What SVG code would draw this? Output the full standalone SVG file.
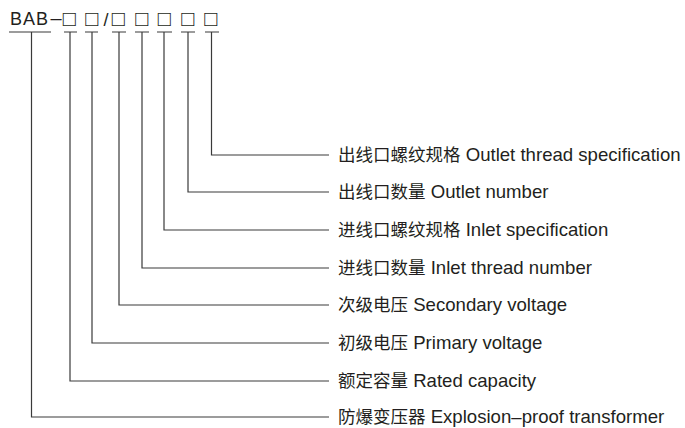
<svg xmlns="http://www.w3.org/2000/svg" width="685" height="428" viewBox="0 0 685 428">
<style>
.t{font-family:"Liberation Sans","Noto Sans CJK SC",sans-serif;font-size:18.6px;fill:#231f20}
.z{font-family:"Noto Sans CJK SC",sans-serif;font-size:17.5px}
.h{font-family:"Liberation Sans",sans-serif;font-size:18px;fill:#231f20}
.s{font-family:"Liberation Sans";font-size:22px;fill:#231f20;text-anchor:middle}
.c{stroke:#3a3a3a;stroke-width:1.2;fill:none}
</style>
<rect width="685" height="428" fill="#fff"/>
<g id="code">
<text class="h" y="25"><tspan x="10" letter-spacing="1">BAB</tspan><tspan x="50.5" font-size="20">–</tspan></text>
<text class="s" y="25.5"><tspan x="69.5">□</tspan><tspan x="92">□</tspan><tspan x="106" class="h">/</tspan><tspan x="118.5">□</tspan><tspan x="142">□</tspan><tspan x="164.5">□</tspan><tspan x="188">□</tspan><tspan x="211">□</tspan></text>
</g>
<g id="connectors" class="c">
<path d="M9 32H51M64 32H77M85 32H98M112 32H126M135 32H149M157 32H172M181 32H195M205 32H219"/>
<path d="M211.5 32V155H329"/>
<path d="M188 32V192H329"/>
<path d="M164 32V230H329"/>
<path d="M142 32V268H329"/>
<path d="M119 32V305H329"/>
<path d="M92 32V343H329"/>
<path d="M70 32V381H329"/>
<path d="M31.5 32V417H329"/>
</g>
<g id="n1"><text class="t" x="338" y="161"><tspan class="z">出线口螺纹规格</tspan> Outlet thread specification</text></g>
<g id="n2"><text class="t" x="338" y="198"><tspan class="z">出线口数量</tspan> Outlet number</text></g>
<g id="n3"><text class="t" x="338" y="236"><tspan class="z">进线口螺纹规格</tspan> Inlet specification</text></g>
<g id="n4"><text class="t" x="338" y="274"><tspan class="z">进线口数量</tspan> Inlet thread number</text></g>
<g id="n5"><text class="t" x="338" y="311"><tspan class="z">次级电压</tspan> Secondary voltage</text></g>
<g id="n6"><text class="t" x="338" y="349"><tspan class="z">初级电压</tspan> Primary voltage</text></g>
<g id="n7"><text class="t" x="338" y="387"><tspan class="z">额定容量</tspan> Rated capacity</text></g>
<g id="n8"><text class="t" x="338" y="423"><tspan class="z">防爆变压器</tspan> Explosion–proof transformer</text></g>
</svg>
